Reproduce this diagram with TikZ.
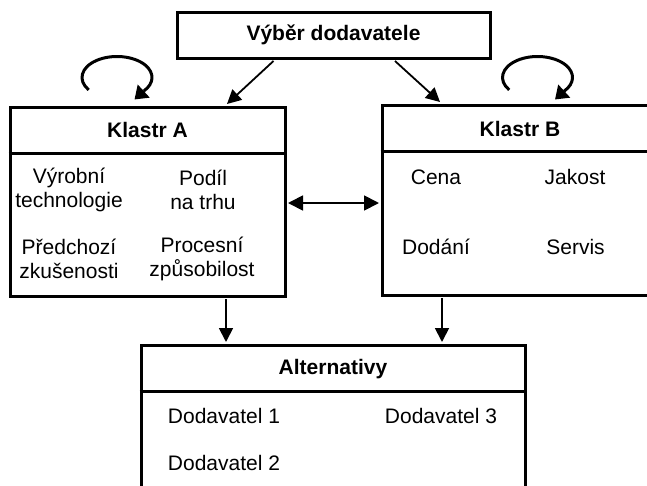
\documentclass[tikz,border=0pt]{standalone}
\usepackage{fontspec}
\setmainfont{Liberation Sans}
\usetikzlibrary{arrows.meta,calc}

\tikzset{
  box/.style={draw, line width=3pt, rectangle, inner sep=0pt},
  divider/.style={line width=2.4pt},
  title/.style={font=\fontsize{21}{24}\selectfont\bfseries},
  item/.style={font=\fontsize{21}{23.5}\selectfont, align=center, inner sep=0pt},
  link/.style={line width=1.8pt, -{Triangle[length=14pt,width=14pt]}},
  biglink/.style={line width=1.8pt, {Triangle[length=15pt,width=15pt]}-{Triangle[length=15pt,width=15pt]}},
  selfloop/.style={line width=3pt},
  looptip/.style={line width=3pt, -{Triangle[length=12.5pt,width=17pt]}},
}

\begin{document}
\begin{tikzpicture}[x=1pt,y=1pt]
  \useasboundingbox (0,0) rectangle (647,-485);
  \clip (0,0) rectangle (647,-485);

  % boxes
  \node[box, minimum width=313pt, minimum height=46pt] (top) at (333.5,-35) {};
  \node[title] at (top.center) {Výběr dodavatele};

  \node[box, minimum width=275pt, minimum height=189pt] (ka) at (147.5,-201.5) {};
  \node[box, minimum width=276pt, minimum height=190pt] (kb) at (520,-200) {};
  \node[box, minimum width=384pt, minimum height=156pt] (alt) at (333,-423) {};

  % header dividers
  \draw[divider] ($(ka.north west)+(0,-48)$) coordinate (kad) -- ($(ka.north east)+(0,-48)$);
  \draw[divider] ($(kb.north west)+(0,-48)$) coordinate (kbd) -- ($(kb.north east)+(0,-48)$);
  \draw[divider] ($(alt.north west)+(0,-48)$) coordinate (altd) -- ($(alt.north east)+(0,-48)$);

  % titles
  \node[title] (kat) at (147.5,-130) {Klastr A};
  \node[title] (kbt) at (520,-129) {Klastr B};
  \node[title] (altt) at (333,-369) {Alternativy};

  % Klastr A items
  \node[item] (a1) at (69,-190) {Výrobní\\technologie};
  \node[item] (a2) at (203,-190) {Podíl\\na trhu};
  \node[item] (a3) at (69,-259) {Předchozí\\zkušenosti};
  \node[item] (a4) at (202,-259) {Procesní\\způsobilost};

  % Klastr B items
  \node[item] (b1) at (436,-177) {Cena};
  \node[item] (b2) at (575,-177) {Jakost};
  \node[item] (b3) at (436,-247) {Dodání};
  \node[item] (b4) at (575.5,-247) {Servis};

  % alternatives
  \node[item] (d1) at (224,-416) {Dodavatel 1};
  \node[item] (d3) at (441,-416) {Dodavatel 3};
  \node[item] (d2) at (224,-463) {Dodavatel 2};

  % connectors
  \draw[link] ($(top.south)+(-60,-1.5)$) -- ($(ka.north)+(79.5,1.5)$);
  \draw[link] ($(top.south)+(61.5,-1.5)$) -- ($(kb.north)+(-80,1.5)$);
  \draw[biglink] ($(ka.east)+(1.5,-1.5)$) -- ($(kb.west)+(-1.5,-3)$);
  \draw[link] ($(ka.south)+(78.5,-1.5)$) -- ($(alt.north)+(-107,1.5)$);
  \draw[link] ($(kb.south)+(-78,-1.5)$) -- ($(alt.north)+(109,1.5)$);

  % self loops over the clusters: an open arc ending in a tip pointing down-left
  \coordinate (la) at ($(ka.north)+(-30.5,28)$);
  \coordinate (lb) at ($(kb.north)+(17.5,26)$);
  \draw[selfloop] ($(la)+(216:35 and 21)$) arc[start angle=216, end angle=-40, x radius=35, y radius=21] coordinate (laend);
  \draw[looptip] (laend) -- ($(la)+(17.5,-22)$);
  \draw[selfloop] ($(lb)+(216:35 and 21)$) arc[start angle=216, end angle=-40, x radius=35, y radius=21] coordinate (lbend);
  \draw[looptip] (lbend) -- ($(lb)+(17.5,-22)$);
\end{tikzpicture}
\end{document}
